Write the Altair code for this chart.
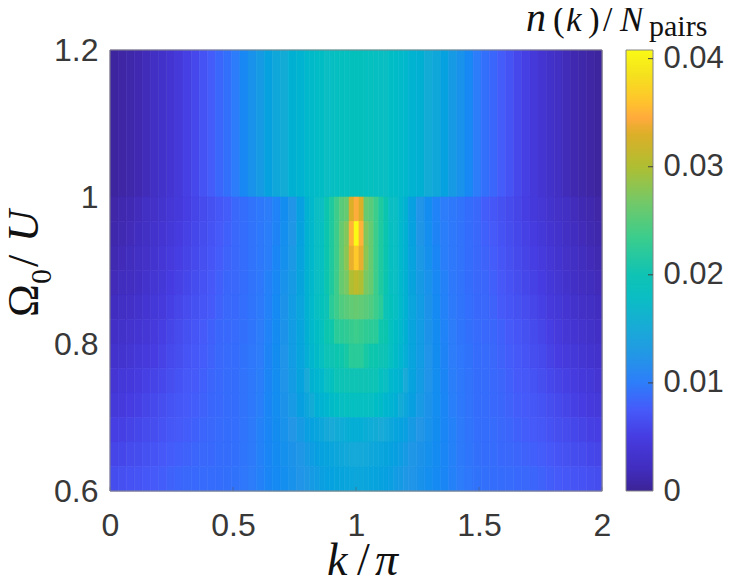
import altair as alt
import pandas as pd

# column edges of the heat map (k / pi)
K_EDGES_LEFT = [0, .033, .066, .099, .132, .165, .198, .231, .264, .297, .33, .363, .396, .429, .462, .495,
                .528, .561, .594, .627, .66, .693, .726, .759, .792,
                .812, .832, .852, .872, .892, .912, .932, .952, .972, .992, 1.012]
K_EDGES_RIGHT = [1.032, 1.052, 1.072, 1.092, 1.112, 1.132, 1.152, 1.172, 1.192, 1.212,
                 1.245, 1.278, 1.311, 1.344, 1.377, 1.41, 1.443, 1.476, 1.509, 1.542, 1.575, 1.608,
                 1.641, 1.674, 1.707, 1.74, 1.773, 1.806, 1.839, 1.872, 1.905, 1.938, 1.971, 2]
# row edges (Omega_0 / U), top to bottom
OMEGA_EDGES = [1.2, 1.0, .9667, .9333, .9, .8667, .8333, .8, .7667, .7333, .7, .6667, .6333, .6]

# half profiles in units of 1e-4, left edge to the central column
ROW_TOP = [5,7,10,13,18,24,30,37,44,52,60,69,76,83,90,99,110,120,130,138,146,152,158,163,
           170,173,176,178,180,182,184,186,187,188,189]
ROW_01 = [9,12,15,19,24,29,34,40,45,51,57,62,67,72,77,84,88,92,96,100,105,115,124,137,
          160,170,180,180,205,220,235,250,258,330,347]
ROW_02 = [11,14,17,21,26,32,37,43,48,54,59,64,69,74,79,84,88,92,96,101,106,116,126,139,
          160,170,180,185,205,220,235,258,275,350,408]
ROW_03 = [14,17,20,24,29,35,40,46,51,56,61,66,71,76,81,84,88,92,96,101,108,118,128,140,
          160,170,180,185,205,220,235,258,280,335,365]
ROW_04 = [17,20,23,27,32,38,43,49,54,59,64,68,73,78,83,84,88,92,97,103,110,120,130,141,
          160,170,180,185,205,220,235,258,270,300,310]
ROW_05 = [22,25,28,32,37,42,47,53,58,63,67,71,75,80,84,85,89,93,98,104,112,122,132,143,
          160,172,182,190,198,225,235,245,250,255,258]
ROW_06 = [27,30,33,37,41,46,51,57,62,67,71,75,79,83,85,86,90,94,99,105,113,122,132,142,
          158,170,178,186,205,208,225,226,228,232,235]
ROW_07 = [32,35,38,42,46,50,55,61,65,70,73,76,80,84,86,87,91,95,100,106,114,123,132,142,
          155,167,175,183,198,200,205,208,215,225,225]
ROW_08 = [39,42,45,48,52,56,60,65,69,73,75,78,82,85,87,88,92,96,101,107,115,123,131,140,
          150,160,165,170,180,186,198,198,200,200,200]
ROW_09 = [44,47,50,53,57,61,65,69,72,75,77,80,83,85,87,88,92,97,102,108,115,122,129,136,
          145,152,157,162,167,175,178,182,184,185,185]
ROW_10 = [51,53,56,59,62,65,68,72,74,77,79,82,84,86,88,89,93,98,103,108,114,120,125,130,
          135,139,142,145,148,150,152,153,154,155,155]
ROW_11 = [57,59,62,64,67,70,73,76,78,80,82,84,85,87,88,90,94,98,103,108,113,118,122,126,
          130,133,136,139,141,143,145,146,147,148,148]
ROW_12 = [64,66,68,70,72,75,77,80,82,84,85,86,87,88,90,91,95,99,103,108,112,116,120,124,
          127,130,132,135,137,139,141,142,143,144,145]
ROWS = [ROW_TOP, ROW_01, ROW_02, ROW_03, ROW_04, ROW_05, ROW_06, ROW_07, ROW_08, ROW_09, ROW_10, ROW_11, ROW_12]

# colour map
CMAP_VALUES = [0, .002, .005, .0075, .01, .0125, .015, .018, .02, .0235, .027, .03, .033, .0345, .036, .0385, .0408]
CMAP_COLORS = ["#3c2396", "#412dbe", "#463ce1", "#465afa", "#2d7dfa", "#2396e6", "#19aad7", "#0abec3",
               "#0fc3b4", "#3ccd8c", "#78c864", "#afbe32", "#dcaf28", "#ffaa3c", "#ffc32d", "#f5e11e", "#fafa14"]
VMAX = 0.0408
CB_TICKS = [0, .01, .02, .03, .04]

X_TICKS = [0, .5, 1, 1.5, 2]
Y_TICKS = [.6, .8, 1, 1.2]

k_edges = K_EDGES_LEFT + K_EDGES_RIGHT
records = []
for r, half in enumerate(ROWS):
    full = half + half[-2::-1]
    for c, v in enumerate(full):
        records.append({"k0": k_edges[c], "k1": k_edges[c + 1],
                        "w0": OMEGA_EDGES[r + 1], "w1": OMEGA_EDGES[r], "v": v * 1e-4})
df = pd.DataFrame(records)

W, H = 492, 441
SANS = "Liberation Sans"
SERIF = "Liberation Serif"
INK = "#383838"
FRAME = "#858585"

cscale = alt.Scale(domain=CMAP_VALUES, range=CMAP_COLORS, clamp=True)
x_scale = alt.Scale(domain=[0, 2], nice=False, zero=False)
x_axis = alt.Axis(values=X_TICKS, format="~g", title=None, grid=False, domain=False, tickSize=0,
                  labelFont=SANS, labelFontSize=32, labelColor=INK, labelPadding=19, labelFlush=False)

heat = alt.Chart(df).mark_rect(strokeWidth=0.6).encode(
    x=alt.X("k0:Q", scale=x_scale, axis=x_axis),
    x2="k1:Q",
    y=alt.Y("w0:Q", scale=alt.Scale(domain=[.6, 1.2], nice=False, zero=False),
            axis=alt.Axis(values=Y_TICKS, format="~g", title=None, grid=False, domain=False, tickSize=0,
                          labelFont=SANS, labelFontSize=32, labelColor=INK, labelPadding=12)),
    y2="w1:Q",
    fill=alt.Fill("v:Q", scale=cscale, legend=None),
    stroke=alt.Stroke("v:Q", scale=cscale, legend=None),
)

xticks = alt.Chart(pd.DataFrame({"t": X_TICKS})).mark_rule(color="#555555", strokeWidth=1, opacity=0.5).encode(
    x=alt.X("t:Q", scale=x_scale, axis=x_axis), y=alt.value(H - 4), y2=alt.value(H))

frame = alt.Chart(pd.DataFrame({"a": [0]})).mark_rect(fillOpacity=0, stroke=FRAME, strokeWidth=1).encode(
    x=alt.value(0), x2=alt.value(W), y=alt.value(0), y2=alt.value(H))

CB_X0, CB_X1 = 516, 543
stops = [alt.GradientStop(offset=v / VMAX, color=c) for v, c in zip(CMAP_VALUES, CMAP_COLORS)]
gradient = alt.LinearGradient(gradient="linear", stops=stops, x1=0, x2=0, y1=1, y2=0)
cb_scale = alt.Scale(domain=[0, VMAX], nice=False, zero=False)
cbar = alt.Chart(pd.DataFrame({"lo": [0], "hi": [VMAX]})).mark_rect(
    fill=gradient, stroke=FRAME, strokeWidth=1).encode(
    x=alt.value(CB_X0), x2=alt.value(CB_X1),
    y=alt.Y("lo:Q", scale=cb_scale,
            axis=alt.Axis(orient="right", offset=CB_X1 - W, values=CB_TICKS, format="~g", title=None, grid=False,
                          domain=False, tickSize=0, labelFont=SANS, labelFontSize=31, labelColor=INK,
                          labelPadding=10)),
    y2="hi:Q")
cticks = alt.Chart(pd.DataFrame({"t": CB_TICKS[1:]})).mark_rule(color="#404040", strokeWidth=1).encode(
    x=alt.value(CB_X1 - 5), x2=alt.value(CB_X1),
    y=alt.Y("t:Q", scale=cb_scale, axis=None))

# (text, x, y, size, style, angle)  -- positions in plot pixels
PIECES = [
    ("k", 217, 525, 46, "italic", 0),
    ("/", 247, 525, 46, "normal", 0),
    ("\u03c0", 265, 525, 46, "italic", 0),
    ("\u03a9", -72, 267, 44, "normal", 270),
    ("0", -59, 234, 30, "normal", 270),
    ("/", -72, 217, 44, "normal", 270),
    ("U", -72, 192, 44, "italic", 270),
    ("n", 416, -19, 40, "italic", 0),
    ("(", 443, -19, 35, "normal", 0),
    ("k", 456, -19, 35, "italic", 0),
    (")", 478, -19, 35, "normal", 0),
    ("/", 493, -19, 35, "normal", 0),
    ("N", 510, -19, 35, "italic", 0),
    ("pairs", 539, -14, 30, "normal", 0),
]
labels = [
    alt.Chart(pd.DataFrame({"s": [t]})).mark_text(
        font=SERIF, fontSize=sz, fontStyle=st, angle=ang, align="left", baseline="alphabetic", color="#111111"
    ).encode(text="s:N", x=alt.value(px), y=alt.value(py))
    for t, px, py, sz, st, ang in PIECES
]

chart = alt.layer(heat, xticks, frame, cbar, cticks, *labels).resolve_scale(
    y="independent", fill="independent", stroke="independent"
).properties(
    width=W, height=H,
    padding={"left": 102, "top": 42, "right": 130, "bottom": 96},
    autosize=alt.AutoSizeParams(type="none"),
).configure_view(stroke=None).configure(background="white")

chart.save("out.html", embed_options={"renderer": "svg", "actions": False})
